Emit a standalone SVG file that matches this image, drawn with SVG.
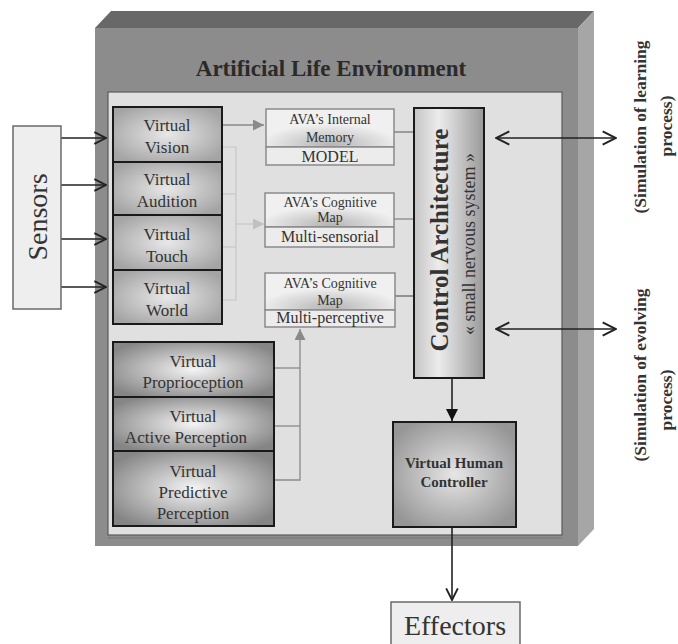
<svg xmlns="http://www.w3.org/2000/svg" width="678" height="644" viewBox="0 0 678 644">
  <style>
    text { font-family: "Liberation Serif", "DejaVu Serif", serif; fill: #2a2a2a; }
    .title { font-size: 23px; font-weight: bold; text-anchor: middle; }
    .big { font-size: 28px; text-anchor: middle; fill: #333; }
    .lbl { font-size: 17px; text-anchor: middle; fill: #333; }
    .mid { font-size: 14px; text-anchor: middle; fill: #333; }
    .midb { font-size: 16px; text-anchor: middle; fill: #333; }
    .side { font-size: 17.5px; font-weight: bold; text-anchor: middle; fill: #333; }
    .sense { fill: url(#gSense); stroke: #1a1a1a; stroke-width: 2; }
    .low { fill: url(#gLow); stroke: #1a1a1a; stroke-width: 2; }
    .memtop { fill: url(#gMem); stroke: #8a8a8a; stroke-width: 1.5; }
    .membot { fill: #ececec; stroke: #8a8a8a; stroke-width: 1.5; }
    .io { fill: #eeeeee; stroke: #6a6a6a; stroke-width: 1.5; }
    .dark { stroke: #222; stroke-width: 1.6; fill: none; }
    .grey { stroke: #8a8a8a; stroke-width: 1.3; fill: none; }
    .faint { stroke: #c6c6c6; stroke-width: 1.2; fill: none; }
  </style>
  <defs>
    <radialGradient id="gSense" cx="50%" cy="50%" r="60%">
      <stop offset="0" stop-color="#e8e8e8"/>
      <stop offset="1" stop-color="#a4a4a4"/>
    </radialGradient>
    <radialGradient id="gLow" cx="50%" cy="50%" r="60%">
      <stop offset="0" stop-color="#f4f4f4"/>
      <stop offset="1" stop-color="#858585"/>
    </radialGradient>
    <radialGradient id="gMem" cx="50%" cy="95%" r="55%">
      <stop offset="0" stop-color="#b4b4b4"/>
      <stop offset="1" stop-color="#f0f0f0"/>
    </radialGradient>
    <linearGradient id="gCtrl" x1="0" y1="0" x2="1" y2="0">
      <stop offset="0" stop-color="#c4c4c4"/>
      <stop offset="0.35" stop-color="#ececec"/>
      <stop offset="1" stop-color="#9a9a9a"/>
    </linearGradient>
    <radialGradient id="gVhc" cx="50%" cy="50%" r="60%">
      <stop offset="0" stop-color="#e6e6e6"/>
      <stop offset="1" stop-color="#969696"/>
    </radialGradient>
    <marker id="open" viewBox="0 0 12 12" refX="11" refY="6" markerWidth="14" markerHeight="14" markerUnits="userSpaceOnUse" orient="auto-start-reverse">
      <path d="M1,1 L11,6 L1,11" fill="none" stroke="#222" stroke-width="1.6"/>
    </marker>
    <marker id="openBig" viewBox="0 0 12 12" refX="11" refY="6" markerWidth="16" markerHeight="16" markerUnits="userSpaceOnUse" orient="auto-start-reverse">
      <path d="M1,1 L11,6 L1,11" fill="none" stroke="#222" stroke-width="1.5"/>
    </marker>
    <marker id="solid" viewBox="0 0 10 10" refX="10" refY="5" markerWidth="12" markerHeight="12" markerUnits="userSpaceOnUse" orient="auto">
      <path d="M0,0 L10,5 L0,10 Z" fill="#111"/>
    </marker>
    <marker id="greyTri" viewBox="0 0 10 10" refX="10" refY="5" markerWidth="11" markerHeight="11" markerUnits="userSpaceOnUse" orient="auto">
      <path d="M0,0 L10,5 L0,10 Z" fill="#8a8a8a"/>
    </marker>
    <marker id="faintTri" viewBox="0 0 10 10" refX="10" refY="5" markerWidth="11" markerHeight="11" markerUnits="userSpaceOnUse" orient="auto">
      <path d="M0,0 L10,5 L0,10 Z" fill="#c0c0c0"/>
    </marker>
  </defs>

  <!-- environment block drawn as a 3D slab -->
  <g id="environment">
    <polygon points="95,28 111,11 594,11 578,28" fill="#686868"/>
    <polygon points="578,28 594,11 594,529 578,546" fill="#a6a6a6"/>
    <rect x="95" y="28" width="483" height="518" fill="#8c8c8c"/>
    <rect x="108" y="92" width="454" height="443" fill="#e0e0e0" stroke="#5a5a5a" stroke-width="1.2"/>
    <line x1="108" y1="538" x2="562" y2="538" stroke="#777" stroke-width="1"/>
    <text class="title" x="331" y="76">Artificial Life Environment</text>
  </g>

  <!-- connectors -->
  <g id="connectors">
    <line class="dark" x1="61" y1="138" x2="106" y2="138" marker-end="url(#open)"/>
    <line class="dark" x1="61" y1="185" x2="106" y2="185" marker-end="url(#open)"/>
    <line class="dark" x1="61" y1="239" x2="106" y2="239" marker-end="url(#open)"/>
    <line class="dark" x1="61" y1="287" x2="106" y2="287" marker-end="url(#open)"/>

    <line class="grey" x1="223" y1="125" x2="264" y2="125" marker-end="url(#greyTri)"/>
    <polyline class="faint" points="223,147 236,147 236,300 223,300"/>
    <line class="faint" x1="223" y1="194" x2="236" y2="194"/>
    <line class="faint" x1="223" y1="247" x2="236" y2="247"/>
    <line class="faint" x1="236" y1="224" x2="264" y2="224" marker-end="url(#faintTri)"/>

    <polyline class="grey" points="275,480 300,480 300,329" marker-end="url(#greyTri)"/>
    <line class="grey" x1="275" y1="368" x2="300" y2="368"/>
    <line class="grey" x1="275" y1="426" x2="300" y2="426"/>

    <line stroke="#777" stroke-width="1.3" x1="394" y1="132" x2="414" y2="132"/>
    <line stroke="#888" stroke-width="1.3" x1="394" y1="219" x2="414" y2="219"/>
    <line stroke="#666" stroke-width="1.3" x1="395" y1="296" x2="414" y2="296"/>

    <line class="dark" x1="496" y1="138" x2="616" y2="138" marker-start="url(#openBig)" marker-end="url(#openBig)"/>
    <line class="dark" x1="496" y1="329" x2="616" y2="329" marker-start="url(#openBig)" marker-end="url(#openBig)"/>

    <line class="dark" x1="452" y1="378" x2="452" y2="421" marker-end="url(#solid)"/>
    <line class="dark" x1="452" y1="528" x2="452" y2="600" marker-end="url(#open)"/>
  </g>

  <g id="sensors">
    <rect class="io" x="13" y="126" width="48" height="183"/>
    <text class="big" transform="translate(38,217) rotate(-90)" x="0" y="9">Sensors</text>
  </g>

  <g id="virtual-vision">
    <rect class="sense" x="113" y="107" width="109" height="55"/>
    <text class="lbl" x="167" y="131">Virtual</text>
    <text class="lbl" x="167" y="153">Vision</text>
  </g>
  <g id="virtual-audition">
    <rect class="sense" x="113" y="162" width="109" height="53"/>
    <text class="lbl" x="167" y="185">Virtual</text>
    <text class="lbl" x="167" y="207">Audition</text>
  </g>
  <g id="virtual-touch">
    <rect class="sense" x="113" y="215" width="109" height="55"/>
    <text class="lbl" x="167" y="240">Virtual</text>
    <text class="lbl" x="167" y="262">Touch</text>
  </g>
  <g id="virtual-world">
    <rect class="sense" x="113" y="270" width="109" height="54"/>
    <text class="lbl" x="167" y="294">Virtual</text>
    <text class="lbl" x="167" y="316">World</text>
  </g>

  <g id="internal-memory">
    <rect class="memtop" x="266" y="109" width="128" height="38"/>
    <rect class="membot" x="266" y="147" width="128" height="18"/>
    <text class="mid" x="330" y="124">AVA’s Internal</text>
    <text class="mid" x="330" y="142">Memory</text>
    <text class="midb" x="330" y="162">MODEL</text>
  </g>
  <g id="cognitive-map-sensorial">
    <rect class="memtop" x="265" y="193" width="129" height="34"/>
    <rect class="membot" x="265" y="227" width="129" height="20"/>
    <text class="mid" x="330" y="207">AVA’s Cognitive</text>
    <text class="mid" x="330" y="222">Map</text>
    <text class="midb" x="330" y="242">Multi-sensorial</text>
  </g>
  <g id="cognitive-map-perceptive">
    <rect class="memtop" x="265" y="273" width="130" height="37"/>
    <rect class="membot" x="265" y="310" width="130" height="17"/>
    <text class="mid" x="330" y="288">AVA’s Cognitive</text>
    <text class="mid" x="330" y="305">Map</text>
    <text class="midb" x="330" y="323">Multi-perceptive</text>
  </g>

  <g id="control-architecture">
    <rect x="414" y="108" width="70" height="270" fill="url(#gCtrl)" stroke="#1a1a1a" stroke-width="2"/>
    <text transform="translate(440,240) rotate(-90)" x="0" y="8" style="font-size:25px;font-weight:bold;text-anchor:middle;fill:#333">Control Architecture</text>
    <text transform="translate(469,244) rotate(-90)" x="0" y="6" style="font-size:18px;text-anchor:middle;fill:#333">« small nervous system »</text>
  </g>

  <g id="virtual-proprioception">
    <rect class="low" x="113" y="342" width="161" height="55"/>
    <text class="lbl" x="193" y="367">Virtual</text>
    <text class="lbl" x="193" y="388">Proprioception</text>
  </g>
  <g id="virtual-active-perception">
    <rect class="low" x="113" y="397" width="161" height="54"/>
    <text class="lbl" x="193" y="422">Virtual</text>
    <text class="lbl" x="186" y="443">Active Perception</text>
  </g>
  <g id="virtual-predictive-perception">
    <rect class="low" x="113" y="451" width="161" height="75"/>
    <text class="lbl" x="193" y="477">Virtual</text>
    <text class="lbl" x="193" y="498">Predictive</text>
    <text class="lbl" x="193" y="519">Perception</text>
  </g>

  <g id="virtual-human-controller">
    <rect x="393" y="422" width="123" height="105" fill="url(#gVhc)" stroke="#1a1a1a" stroke-width="2"/>
    <text x="454" y="468" style="font-size:15px;font-weight:bold;text-anchor:middle;fill:#333">Virtual Human</text>
    <text x="454" y="487" style="font-size:15px;font-weight:bold;text-anchor:middle;fill:#333">Controller</text>
  </g>

  <g id="effectors">
    <rect class="io" x="391" y="602" width="129" height="44"/>
    <text class="big" x="455" y="635">Effectors</text>
  </g>

  <g id="learning-label">
    <text class="side" transform="translate(640,127) rotate(-90)" x="0" y="6">(Simulation of learning</text>
    <text class="side" transform="translate(666,126) rotate(-90)" x="0" y="6">process)</text>
  </g>
  <g id="evolving-label">
    <text class="side" transform="translate(640,375) rotate(-90)" x="0" y="6">(Simulation of evolving</text>
    <text class="side" transform="translate(666,400) rotate(-90)" x="0" y="6">process)</text>
  </g>
</svg>
